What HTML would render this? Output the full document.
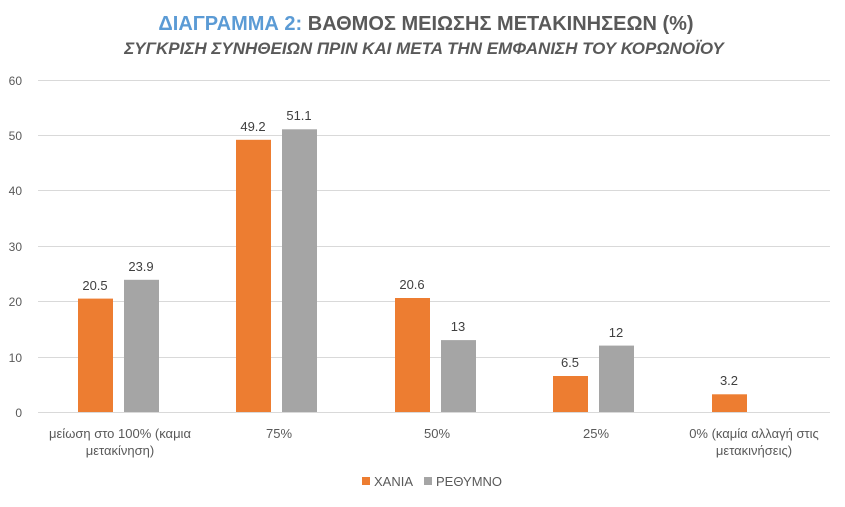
<!DOCTYPE html>
<html><head><meta charset="utf-8"><style>
body{margin:0;background:#fff}
text{font-family:"Liberation Sans","DejaVu Sans",sans-serif}
</style></head><body>
<svg width="845" height="502" viewBox="0 0 845 502" xmlns="http://www.w3.org/2000/svg">
<rect width="845" height="502" fill="#fff"/>
<text x="426" y="30" text-anchor="middle" font-size="20" font-weight="bold" fill="#595959"><tspan fill="#5b9bd5">ΔΙΑΓΡΑΜΜΑ 2:</tspan> ΒΑΘΜΟΣ ΜΕΙΩΣΗΣ ΜΕΤΑΚΙΝΗΣΕΩΝ (%)</text>
<text x="424" y="54" text-anchor="middle" font-size="17" font-weight="bold" font-style="italic" fill="#595959">ΣΥΓΚΡΙΣΗ ΣΥΝΗΘΕΙΩΝ ΠΡΙΝ ΚΑΙ ΜΕΤΑ ΤΗΝ ΕΜΦΑΝΙΣΗ ΤΟΥ ΚΟΡΩΝΟΪΟΥ</text>
<g stroke="#d9d9d9" stroke-width="1">
<line x1="38" x2="830" y1="80.5" y2="80.5"/>
<line x1="38" x2="830" y1="135.5" y2="135.5"/>
<line x1="38" x2="830" y1="190.5" y2="190.5"/>
<line x1="38" x2="830" y1="246.5" y2="246.5"/>
<line x1="38" x2="830" y1="301.5" y2="301.5"/>
<line x1="38" x2="830" y1="357.5" y2="357.5"/>
<line x1="38" x2="830" y1="412.5" y2="412.5"/>
</g>
<g font-size="12" fill="#595959" text-anchor="end">
<text x="22" y="85">60</text><text x="22" y="140">50</text><text x="22" y="195">40</text>
<text x="22" y="251">30</text><text x="22" y="306">20</text><text x="22" y="362">10</text><text x="22" y="417">0</text>
</g>
<g fill="#ed7d31">
<rect x="78" y="298.6" width="35" height="113.4"/>
<rect x="236" y="139.8" width="35" height="272.2"/>
<rect x="395" y="298" width="35" height="114"/>
<rect x="553" y="376" width="35" height="36"/>
<rect x="712" y="394.3" width="35" height="17.7"/>
</g>
<g fill="#a5a5a5">
<rect x="124" y="279.8" width="35" height="132.2"/>
<rect x="282" y="129.3" width="35" height="282.7"/>
<rect x="441" y="340.1" width="35" height="71.9"/>
<rect x="599" y="345.6" width="35" height="66.4"/>
</g>
<g font-size="13" fill="#404040" text-anchor="middle">
<text x="95" y="290">20.5</text><text x="141" y="271">23.9</text>
<text x="253" y="131">49.2</text><text x="299" y="120">51.1</text>
<text x="412" y="289">20.6</text><text x="458" y="331">13</text>
<text x="570" y="367">6.5</text><text x="616" y="337">12</text>
<text x="729" y="385">3.2</text>
</g>
<g font-size="13" fill="#595959" text-anchor="middle">
<text x="120" y="438">μείωση στο 100% (καμια</text><text x="120" y="455">μετακίνηση)</text>
<text x="279" y="438">75%</text>
<text x="437" y="438">50%</text>
<text x="596" y="438">25%</text>
<text x="754" y="438">0%  (καμία αλλαγή στις</text><text x="754" y="455">μετακινήσεις)</text>
</g>
<rect x="362" y="477" width="8" height="8" fill="#ed7d31"/>
<text x="374" y="486" font-size="13" fill="#595959">ΧΑΝΙΑ</text>
<rect x="424" y="477" width="8" height="8" fill="#a5a5a5"/>
<text x="436" y="486" font-size="13" fill="#595959">ΡΕΘΥΜΝΟ</text>
</svg>
</body></html>
